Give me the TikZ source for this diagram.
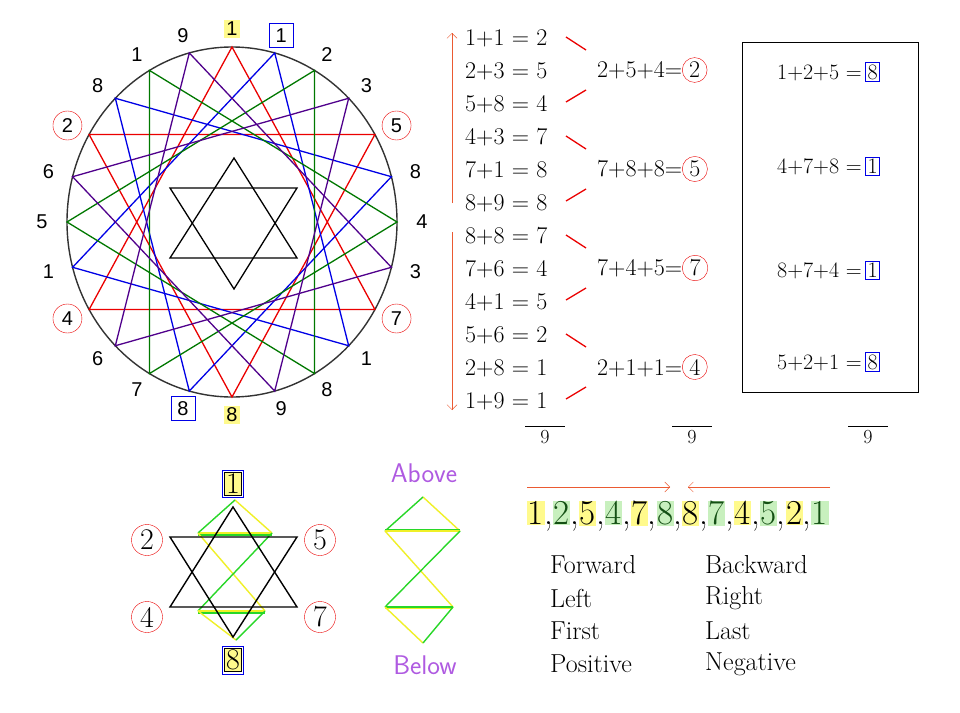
\documentclass[tikz,border=0pt]{standalone}
\usepackage{fontspec}
\newfontfamily\arial{Liberation Sans}
\usetikzlibrary{arrows.meta}
\definecolor{hy}{RGB}{255,250,140}
\definecolor{hg}{RGB}{200,240,190}
\definecolor{dg}{RGB}{20,80,20}
\definecolor{cg}{RGB}{0,120,0}
\definecolor{cb}{RGB}{0,0,230}
\definecolor{cp}{RGB}{80,0,140}
\definecolor{cr}{RGB}{235,0,0}
\definecolor{lav}{RGB}{175,90,225}
\definecolor{org}{RGB}{235,90,50}
\definecolor{gl}{RGB}{40,215,40}
\definecolor{yl}{RGB}{240,240,40}
\begin{document}
\begin{tikzpicture}[x=1pt,y=-1pt,
  lab/.style={font=\arial\fontsize{20}{20}\selectfont,inner sep=1pt},
  clab/.style={lab,draw=cr,circle,inner sep=2pt,minimum size=29pt},
  blab/.style={lab,draw=cb,inner sep=2pt,minimum size=24pt},
  ylab/.style={lab,fill=hy,inner sep=2pt},
  eq/.style={font=\fontsize{24}{24}\selectfont,anchor=west,inner sep=0pt},
  circnum/.style={draw=cr,circle,inner sep=1pt},
  boxnum/.style={draw=cb,inner sep=2pt},
  reddash/.style={cr,line width=1.3pt},
  word/.style={font=\fontsize{26}{26}\selectfont,anchor=west,inner sep=0pt},
  nine/.style={font=\fontsize{20}{20}\selectfont,inner sep=1pt},
  handw/.style={font=\sffamily\fontsize{27}{27}\selectfont,text=lav},
  gline/.style={gl,line width=1.4pt},
  yline/.style={yl,line width=1.4pt},
  bignum/.style={font=\fontsize{30}{30}\selectfont}]
\useasboundingbox (0,0) rectangle (960,712);
\fill[white] (0,0) rectangle (960,712);
% circle
\draw[line width=1.4pt,black!80] (232,222) ellipse [x radius=165,y radius=175];
\foreach \i in {0,...,23}{
  \pgfmathsetmacro\a{\i*15}
  \coordinate (P\i) at ({232+165*cos(\a)},{222-175*sin(\a)});
}
\foreach \o/\c in {6/cr,5/cb,4/cg,7/cp}{
  \pgfmathtruncatemacro\ia{mod(\o,24)}
  \pgfmathtruncatemacro\ib{mod(\o+8,24)}
  \pgfmathtruncatemacro\ic{mod(\o+16,24)}
  \pgfmathtruncatemacro\id{mod(\o+4,24)}
  \pgfmathtruncatemacro\ie{mod(\o+12,24)}
  \pgfmathtruncatemacro\ig{mod(\o+20,24)}
  \draw[\c,line width=1.3pt] (P\ia) -- (P\ib) -- (P\ic) -- cycle;
  \draw[\c,line width=1.3pt] (P\id) -- (P\ie) -- (P\ig) -- cycle;
}
% inner star
\coordinate (s1) at (234,158); \coordinate (s2) at (170,258); \coordinate (s3) at (297,258);
\coordinate (s4) at (170,188); \coordinate (s5) at (297,188); \coordinate (s6) at (234,289);
\draw[line width=1.3pt] (s1) -- (s2) -- (s3) -- cycle;
\draw[line width=1.3pt] (s4) -- (s5) -- (s6) -- cycle;
% labels
\foreach \ang/\t/\s [count=\k] in {90/1/ylab,75/1/blab,60/2/lab,45/3/lab,30/5/clab,15/8/lab,0/4/lab,-15/3/lab,-30/7/clab,-45/1/lab,-60/8/lab,-75/9/lab,-90/8/ylab,-105/8/blab,-120/7/lab,-135/6/lab,-150/4/clab,-165/1/lab,180/5/lab,165/6/lab,150/2/clab,135/8/lab,120/1/lab,105/9/lab}{
  \node[\s] (L\k) at ({232+190*cos(\ang)},{222-193*sin(\ang)}) {\t};
}
% equations
\foreach \t [count=\k] in {1+1 = 2,2+3 = 5,5+8 = 4,4+3 = 7,7+1 = 8,8+9 = 8,8+8 = 7,7+6 = 4,4+1 = 5,5+6 = 2,2+8 = 1,1+9 = 1}{
  \node[eq] (E\k) at (465,{38+(\k-1)*33}) {\t};
}
\draw[org,-{Straight Barb[length=5pt]}] (452,203) -- (452,33);
\draw[org,-{Straight Barb[length=5pt]}] (452,232) -- (452,410);
\foreach \k/\t/\r in {1/2+5+4/2,2/7+8+8/5,3/7+4+5/7,4/2+1+1/4}{
  \pgfmathsetmacro\yy{70+(\k-1)*99}
  \node[eq] (G\k) at (597,\yy) {\t=\tikz[baseline=(c.base)]\node[circnum,inner sep=2pt](c){\r};};
  \draw[reddash] (566,{\yy-33}) -- (586,{\yy-20});
  \draw[reddash] (566,{\yy+32}) -- (586,{\yy+20});
}
% right box
\draw[line width=0.8pt] (742,42) rectangle (918,392);
\foreach \t/\r/\yy [count=\k] in {1+2+5/8/72,4+7+8/1/166,8+7+4/1/270,5+2+1/8/362}{
  \node[eq,font=\fontsize{22}{22}\selectfont] (B\k) at (777,\yy) {\t{} =\,\tikz[baseline=(c.base)]\node[boxnum](c){\r};};
}
% nines
\foreach \xx [count=\k] in {545,692,868}{
  \node[nine] (N\k) at (\xx,437) {9};
  \draw[line width=0.6pt] ([xshift=-20pt,yshift=3pt]N\k.north) -- ([xshift=20pt,yshift=3pt]N\k.north);
}
% bottom star
\coordinate (t1) at (233,507); \coordinate (t2) at (170,607); \coordinate (t3) at (297,607);
\coordinate (t4) at (170,537); \coordinate (t5) at (297,537); \coordinate (t6) at (233,637);
\coordinate (a1) at (235,500); \coordinate (a2) at (198,533); \coordinate (a3) at (272,533);
\coordinate (a4) at (198,611); \coordinate (a5) at (265,611); \coordinate (a6) at (236,640);
\draw[yline] (a1) -- (a3); \draw[yline] (a2) -- (a3);
\draw[gline] (a1) -- (a2); \draw[gline] ([yshift=-2pt]a2) -- ([yshift=-2pt]a3);
\draw[yline] (a2) -- (a5); \draw[gline] (a3) -- (a4);
\draw[yline] (a4) -- (a5); \draw[gline] ([yshift=-2pt]a4) -- ([yshift=-2pt]a5);
\draw[yline] (a4) -- (a6); \draw[gline] (a5) -- (a6);
\draw[line width=1.4pt] (t1) -- (t2) -- (t3) -- cycle;
\draw[line width=1.4pt] (t4) -- (t5) -- (t6) -- cycle;
\node[bignum,fill=hy,draw=black,line width=0.7pt,inner sep=1.5pt] (top1) at (233,484) {1};
\draw[cb,line width=0.9pt] ([xshift=-2pt,yshift=2pt]top1.north west) rectangle ([xshift=2pt,yshift=-2pt]top1.south east);
\node[bignum,fill=hy,draw=black,line width=0.7pt,inner sep=1.5pt] (bot8) at (233,660) {8};
\draw[cb,line width=0.9pt] ([xshift=-2pt,yshift=2pt]bot8.north west) rectangle ([xshift=2pt,yshift=-2pt]bot8.south east);
\foreach \t/\xx/\yy in {2/147/540,5/320/540,4/147/617,7/320/617}{
  \node[circnum,bignum,minimum size=31pt,inner sep=0pt] (c\t) at (\xx,\yy) {\t};
}
% above / below
\node[handw] (above) at (424,473) {Above};
\node[handw] (below) at (425,665) {Below};
\coordinate (z1) at (423,497); \coordinate (z2) at (385,531); \coordinate (z3) at (460,531);
\coordinate (z4) at (385,607); \coordinate (z5) at (453,607); \coordinate (z6) at (423,643);
\draw[yline] (z1) -- (z3); \draw[gline] (z1) -- (z2);
\draw[yline] (z2) -- (z3); \draw[gline] ([yshift=1.5pt]z2) -- ([yshift=1.5pt]z3);
\draw[yline] (z2) -- (z5); \draw[gline] (z3) -- (z4);
\draw[yline] ([yshift=-1.5pt]z4) -- ([yshift=-1.5pt]z5); \draw[gline] (z4) -- (z5);
\draw[yline] (z4) -- (z6); \draw[gline] (z5) -- (z6);
% sequence
\node[font=\fontsize{35}{35}\selectfont,inner sep=0pt] (seq) at (678,516) {\setlength\fboxsep{0.5pt}%
\colorbox{hy}{1},\colorbox{hg}{\textcolor{dg}{2}},\colorbox{hy}{5},\colorbox{hg}{\textcolor{dg}{4}},\colorbox{hy}{7},\colorbox{hg}{\textcolor{dg}{8}},\colorbox{hy}{8},\colorbox{hg}{\textcolor{dg}{7}},\colorbox{hy}{4},\colorbox{hg}{\textcolor{dg}{5}},\colorbox{hy}{2},\colorbox{hg}{\textcolor{dg}{1}}};
\coordinate (ar1) at (527,487); \coordinate (ar2) at (670,487);
\coordinate (ar3) at (830,487); \coordinate (ar4) at (688,487);
\draw[org,-{Straight Barb[length=5pt]}] (ar1) -- (ar2);
\draw[org,-{Straight Barb[length=5pt]}] (ar3) -- (ar4);
\foreach \a/\b [count=\k] in {Forward/Backward,Left/Right,First/Last,Positive/Negative}{
  \node[word] (w\k) at (550,{565+(\k-1)*33}) {\a};
  \node[word] (v\k) at (705,{565+(\k-1)*33}) {\b};
}
\end{tikzpicture}
\end{document}
